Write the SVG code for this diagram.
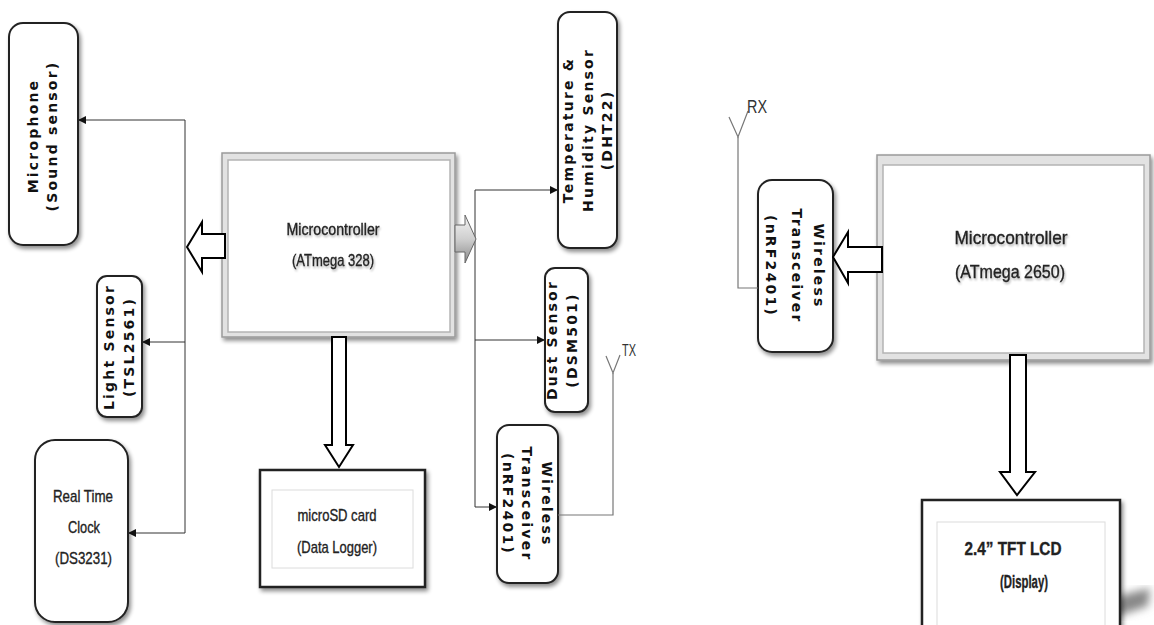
<svg xmlns="http://www.w3.org/2000/svg" width="1154" height="625" viewBox="0 0 1154 625">
  <defs>
    <filter id="sh" x="-20%" y="-20%" width="150%" height="150%">
      <feGaussianBlur in="SourceAlpha" stdDeviation="2"/>
      <feOffset dx="2" dy="3" result="o"/>
      <feComponentTransfer><feFuncA type="linear" slope="0.45"/></feComponentTransfer>
      <feMerge><feMergeNode/><feMergeNode in="SourceGraphic"/></feMerge>
    </filter>
    <filter id="tsh" x="-10%" y="-30%" width="130%" height="160%">
      <feGaussianBlur in="SourceAlpha" stdDeviation="1"/>
      <feOffset dx="1" dy="1.5"/>
      <feComponentTransfer><feFuncA type="linear" slope="0.3"/></feComponentTransfer>
      <feMerge><feMergeNode/><feMergeNode in="SourceGraphic"/></feMerge>
    </filter>
    <filter id="blur4"><feGaussianBlur stdDeviation="4"/></filter>
    <linearGradient id="grayArrow" x1="0" y1="0" x2="0" y2="1">
      <stop offset="0" stop-color="#f4f4f4"/>
      <stop offset="0.5" stop-color="#cfcfcf"/>
      <stop offset="1" stop-color="#8a8a8a"/>
    </linearGradient>
    <marker id="ah" markerUnits="userSpaceOnUse" markerWidth="9" markerHeight="9" refX="8" refY="4" orient="auto">
      <path d="M0,0 L8,4 L0,8 z" fill="#111"/>
    </marker>
    <style>
      .rbox { fill:#fff; stroke:#222; stroke-width:2; filter:url(#sh); }
      .lbl { font-family:"DejaVu Sans",sans-serif; font-weight:bold; font-size:14px; letter-spacing:2.2px; fill:#111; text-anchor:middle; }
      .cal { font-family:"Liberation Sans",sans-serif; fill:#222; stroke:#222; stroke-width:0.35; text-anchor:middle; }
      .mcu { filter:url(#tsh); }
      .bevOut { fill:#e2e2e2; stroke:#9a9a9a; stroke-width:1.5; filter:url(#sh); }
      .bevIn { fill:#fff; stroke:#b4b4b4; stroke-width:1.5; }
      .card { fill:#fff; stroke:#222; stroke-width:2.5; filter:url(#sh); }
      .cardIn { fill:none; stroke:#dcdcdc; stroke-width:1; }
      .wire { fill:none; stroke:#333; stroke-width:1; }
      .ant { fill:none; stroke:#777; stroke-width:1.2; }
      .blk { fill:#fff; stroke:#000; stroke-width:2; }
      .tag { font-family:"Liberation Sans",sans-serif; fill:#333; }
    </style>
  </defs>

  <rect width="1154" height="625" fill="#fff"/>

  <!-- sensor node (left half) -->
  <g id="mcu1">
    <rect class="bevOut" x="222" y="153" width="233" height="184"/>
    <rect class="bevIn" x="228" y="160" width="222" height="172"/>
    <g class="mcu">
      <text class="cal" x="333" y="235" font-size="17" textLength="93" lengthAdjust="spacingAndGlyphs">Microcontroller</text>
      <text class="cal" x="333" y="266" font-size="17" textLength="82" lengthAdjust="spacingAndGlyphs">(ATmega 328)</text>
    </g>
  </g>

  <g id="microphone">
    <rect class="rbox" x="9" y="23" width="69" height="222" rx="14"/>
    <text class="lbl" transform="translate(38,136) rotate(-90)">Microphone</text>
    <text class="lbl" transform="translate(57,136) rotate(-90)">(Sound sensor)</text>
  </g>

  <g id="light-sensor">
    <rect class="rbox" x="97" y="276" width="45" height="141" rx="10"/>
    <text class="lbl" font-size="13" transform="translate(114,347) rotate(-90)">Light Sensor</text>
    <text class="lbl" font-size="13" transform="translate(134,347) rotate(-90)">(TSL2561)</text>
  </g>

  <g id="rtc">
    <rect class="rbox" x="35" y="440" width="93" height="182" rx="20"/>
    <text class="cal" x="83" y="502" font-size="17" textLength="60" lengthAdjust="spacingAndGlyphs">Real Time</text>
    <text class="cal" x="84" y="533" font-size="17" textLength="32" lengthAdjust="spacingAndGlyphs">Clock</text>
    <text class="cal" x="83.5" y="564" font-size="17" textLength="57" lengthAdjust="spacingAndGlyphs">(DS3231)</text>
  </g>

  <g id="microsd">
    <rect class="card" x="260" y="470" width="165" height="117"/>
    <rect class="cardIn" x="272" y="490" width="141" height="78"/>
    <text class="cal" x="337" y="521" font-size="17" textLength="79" lengthAdjust="spacingAndGlyphs">microSD card</text>
    <text class="cal" x="337" y="553" font-size="17" textLength="80" lengthAdjust="spacingAndGlyphs">(Data Logger)</text>
  </g>

  <g id="dht22">
    <rect class="rbox" x="558" y="12" width="59" height="236" rx="12"/>
    <text class="lbl" transform="translate(573,130) rotate(-90)">Temperature &amp;</text>
    <text class="lbl" transform="translate(593,130) rotate(-90)">Humidity Sensor</text>
    <text class="lbl" transform="translate(612,130) rotate(-90)">(DHT22)</text>
  </g>

  <g id="dust-sensor">
    <rect class="rbox" x="545" y="268" width="43" height="144" rx="10"/>
    <text class="lbl" font-size="13" transform="translate(557,340) rotate(-90)">Dust Sensor</text>
    <text class="lbl" font-size="13" transform="translate(577,340) rotate(-90)">(DSM501)</text>
  </g>

  <g id="tx-transceiver">
    <rect class="rbox" x="497" y="425" width="61" height="158" rx="12"/>
    <text class="lbl" transform="translate(542,504) rotate(90)">Wireless</text>
    <text class="lbl" transform="translate(522,504) rotate(90)">Transceiver</text>
    <text class="lbl" transform="translate(503,504) rotate(90)">(nRF2401)</text>
  </g>

  <!-- display node (right half) -->
  <g id="mcu2">
    <rect class="bevOut" x="877" y="155" width="273" height="205"/>
    <rect class="bevIn" x="883" y="165" width="261" height="188"/>
    <g class="mcu">
      <text class="cal" x="1011" y="244" font-size="19" textLength="113" lengthAdjust="spacingAndGlyphs">Microcontroller</text>
      <text class="cal" x="1010" y="278" font-size="19" textLength="110" lengthAdjust="spacingAndGlyphs">(ATmega 2650)</text>
    </g>
  </g>

  <g id="rx-transceiver">
    <rect class="rbox" x="758" y="180" width="75" height="172" rx="14"/>
    <text class="lbl" font-size="15" transform="translate(814,266) rotate(90)">Wireless</text>
    <text class="lbl" font-size="15" transform="translate(792,266) rotate(90)">Transceiver</text>
    <text class="lbl" font-size="15" transform="translate(766,266) rotate(90)">(nRF2401)</text>
  </g>

  <g id="lcd">
    <polygon points="1110,598 1150,588 1148,606 1112,618" fill="#888" filter="url(#blur4)"/>
    <rect class="card" x="922" y="500" width="198" height="140"/>
    <rect class="cardIn" x="937" y="522" width="168" height="110"/>
    <text class="cal" x="1013" y="555" font-size="18" font-weight="bold" stroke-width="0" textLength="97" lengthAdjust="spacingAndGlyphs">2.4” TFT LCD</text>
    <text class="cal" x="1024" y="588" font-size="18" font-weight="bold" stroke-width="0" textLength="48" lengthAdjust="spacingAndGlyphs">(Display)</text>
  </g>

  <!-- connectors -->
  <g id="connectors">
    <!-- left bus -->
    <polyline class="wire" points="185,120 185,533"/>
    <line class="wire" x1="185" y1="120" x2="78" y2="120" marker-end="url(#ah)"/>
    <line class="wire" x1="185" y1="342" x2="142" y2="342" marker-end="url(#ah)"/>
    <line class="wire" x1="185" y1="533" x2="128" y2="533" marker-end="url(#ah)"/>
    <!-- right bus -->
    <polyline class="wire" points="475,190 475,507"/>
    <line class="wire" x1="475" y1="190" x2="558" y2="190" marker-end="url(#ah)"/>
    <line class="wire" x1="475" y1="340" x2="545" y2="340" marker-end="url(#ah)"/>
    <line class="wire" x1="475" y1="507" x2="497" y2="507" marker-end="url(#ah)"/>
    <!-- TX antenna -->
    <polyline class="ant" points="558,515 613,515 613,373"/>
    <polyline class="ant" points="606,356 613,373 620,355"/>
    <text class="tag" x="622" y="356" font-size="17" textLength="14" lengthAdjust="spacingAndGlyphs">TX</text>
    <!-- RX antenna -->
    <polyline class="ant" points="758,288 738,288 738,137"/>
    <polyline class="ant" points="729,117 738,137 748,111"/>
    <text class="tag" x="747" y="113" font-size="19" textLength="20" lengthAdjust="spacingAndGlyphs">RX</text>
    <!-- block arrows -->
    <polygon class="blk" points="225,234 202,234 202,222 187,247 202,272 202,258 225,258"/>
    <polygon points="455,225 465,225 465,215 476,239 465,263 465,252 455,252" fill="url(#grayArrow)" stroke="#666" stroke-width="1"/>
    <polygon class="blk" points="332,337 346,337 346,445 353,445 339,467 325,445 332,445"/>
    <polygon class="blk" points="882,247 848,247 848,232 833,257 848,283 848,272 882,272"/>
    <polygon class="blk" points="1010,355 1026,355 1026,472 1035,472 1017,495 1000,472 1010,472"/>
  </g>
</svg>
